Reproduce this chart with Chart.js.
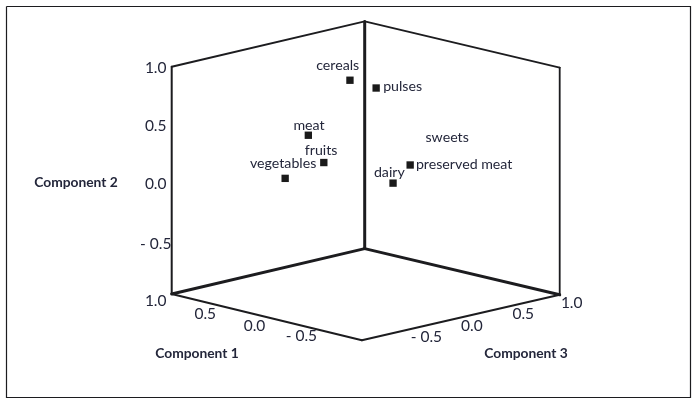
<!DOCTYPE html>
<html>
<head>
<meta charset="utf-8">
<style>html,body{margin:0;padding:0;background:#fff}canvas{display:block}</style>
<script src="https://cdn.jsdelivr.net/npm/chart.js@4"></script>
</head>
<body>
<canvas id="c" width="697" height="404"></canvas>
<script>
// ---- data (component loadings) ----
const foods      = ["cereals","pulses","meat","fruits","vegetables","sweets","preserved meat","dairy"];
const component1 = [0.075,-0.06,0.29,0.21,0.41,-0.235,-0.235,-0.147];
const component2 = [0.885,0.817,0.40,0.16,0.02,0.14,0.14,-0.02];
const component3 = [-0.075,0.06,-0.29,-0.21,-0.41,0.235,0.235,0.147];
const hasMarker  = [true,true,true,true,true,false,true,true];
const ticks1 = [1.0,0.5,0.0,-0.5];
const ticks2 = [1.0,0.5,0.0,-0.5];
const ticks3 = [1.0,0.5,0.0,-0.5];
const tickText = v => v < 0 ? "- " + Math.abs(v).toFixed(1) : v.toFixed(1);

// ---- oblique projection of the cube on the picture plane ----
const proj = {x0:364.5,a:-96.3,b:97.7,e:-1.2,y0:294.4,c:-23.1,d:-22.7,h:113.6};
const px = (c1,c3) => proj.x0 + proj.a*c1 + proj.b*c3 + proj.e*c1*c3;
const py = (c1,c2,c3) => proj.y0 + proj.c*c1 + proj.d*c3 - proj.h*(c2+1);
const P = (c1,c2,c3) => ({x:px(c1,c3), y:py(c1,c2,c3)});

// ---- label placement (pixel offset of each text centre from its anchor) ----
const foodOffset = [[-12.3,-14.7],[26.5,-2],[0.7,-10.3],[-2.7,-12.3],[-2,-15],[37,-27.7],[54,-1],[-3.7,-10.3]];
const offset1 = [[-16,7.3],[-14,8],[-12.3,9],[-13,7.3]];
const offset2 = [[-16,0.8],[-16,2],[-16,3.6],[-16,6.7]];
const offset3 = [[12,8],[13,8],[11,8.5],[15,8]];
const titlePos = [["Component 1",197,353.7],["Component 2",76,182.7],["Component 3",526,353.7]];
const frameBox = [[6.5,6.5],[690.5,6.5],[690.5,397.5],[6.5,397.5],[6.5,6.5]];

const INK = "#1c1c1f", TXT = "#23263a";
const edge = (from,to,w) => ({type:"scatter",showLine:true,data:[P(...from),P(...to)],borderColor:INK,borderWidth:w,
  pointRadius:0,borderCapStyle:"round",clip:false,order:2});
const datasets = [
  edge([1,1,-1],[1,-1,-1],2),        // left vertical
  edge([1,1,-1],[1,1,1],2),          // top left
  edge([1,1,1],[-1,1,1],2),          // top right
  edge([1,1,1],[1,-1,1],3),          // back vertical
  edge([-1,1,1],[-1,-1,1],1.8),      // right vertical
  edge([1,-1,-1],[1,-1,1],3),        // floor back left
  edge([1,-1,1],[-1,-1,1],3),        // floor back right
  edge([1,-1,-1],[-1,-1,-1],2),      // floor front left
  edge([-1,-1,-1],[-1,-1,1],2),      // floor front right
  {type:"scatter",showLine:true,data:frameBox.map(([x,y])=>({x,y})),borderColor:INK,borderWidth:1.2,pointRadius:0,clip:false,order:3},
  {type:"scatter",label:"foods",data:foods.map((f,i)=>P(component1[i],component2[i],component3[i])),
   backgroundColor:"#1a1a1a",borderColor:"#1a1a1a",borderWidth:0,pointStyle:"rect",
   pointRadius:hasMarker.map(m=>m?5.2:0),clip:false,order:1}
];

const textPlugin = {id:"texts",afterDatasetsDraw(chart){
  const {ctx,scales:{x,y}} = chart;
  const put = (t,dx,dy) => ctx.fillText(t,x.getPixelForValue(dx),y.getPixelForValue(dy));
  ctx.save();
  ctx.textAlign="center";ctx.textBaseline="middle";ctx.fillStyle=TXT;
  ctx.font="14.2px Lato";
  foods.forEach((f,i)=>{const p=P(component1[i],component2[i],component3[i]);
    put(f,p.x+foodOffset[i][0],p.y+foodOffset[i][1]);});
  ctx.font="15.5px Lato";
  ticks1.forEach((v,i)=>{const p=P(v,-1,-1);put(tickText(v),p.x+offset1[i][0],p.y+offset1[i][1]);});
  ticks2.forEach((v,i)=>{const p=P(1,v,-1);put(tickText(v),p.x+offset2[i][0],p.y+offset2[i][1]);});
  ticks3.forEach((v,i)=>{const p=P(-1,-1,v);put(tickText(v),p.x+offset3[i][0],p.y+offset3[i][1]);});
  ctx.font="bold 13.8px Lato";
  titlePos.forEach(([t,a,b])=>put(t,a,b));
  ctx.restore();
}};

new Chart(document.getElementById("c"),{
  type:"scatter",
  data:{datasets},
  options:{
    responsive:false,animation:false,
    layout:{padding:0,autoPadding:false},
    plugins:{legend:{display:false},tooltip:{enabled:false}},
    scales:{
      x:{type:"linear",min:0,max:697,display:false},
      y:{type:"linear",min:0,max:404,reverse:true,display:false}
    }
  },
  plugins:[textPlugin]
});
</script>
</body>
</html>
